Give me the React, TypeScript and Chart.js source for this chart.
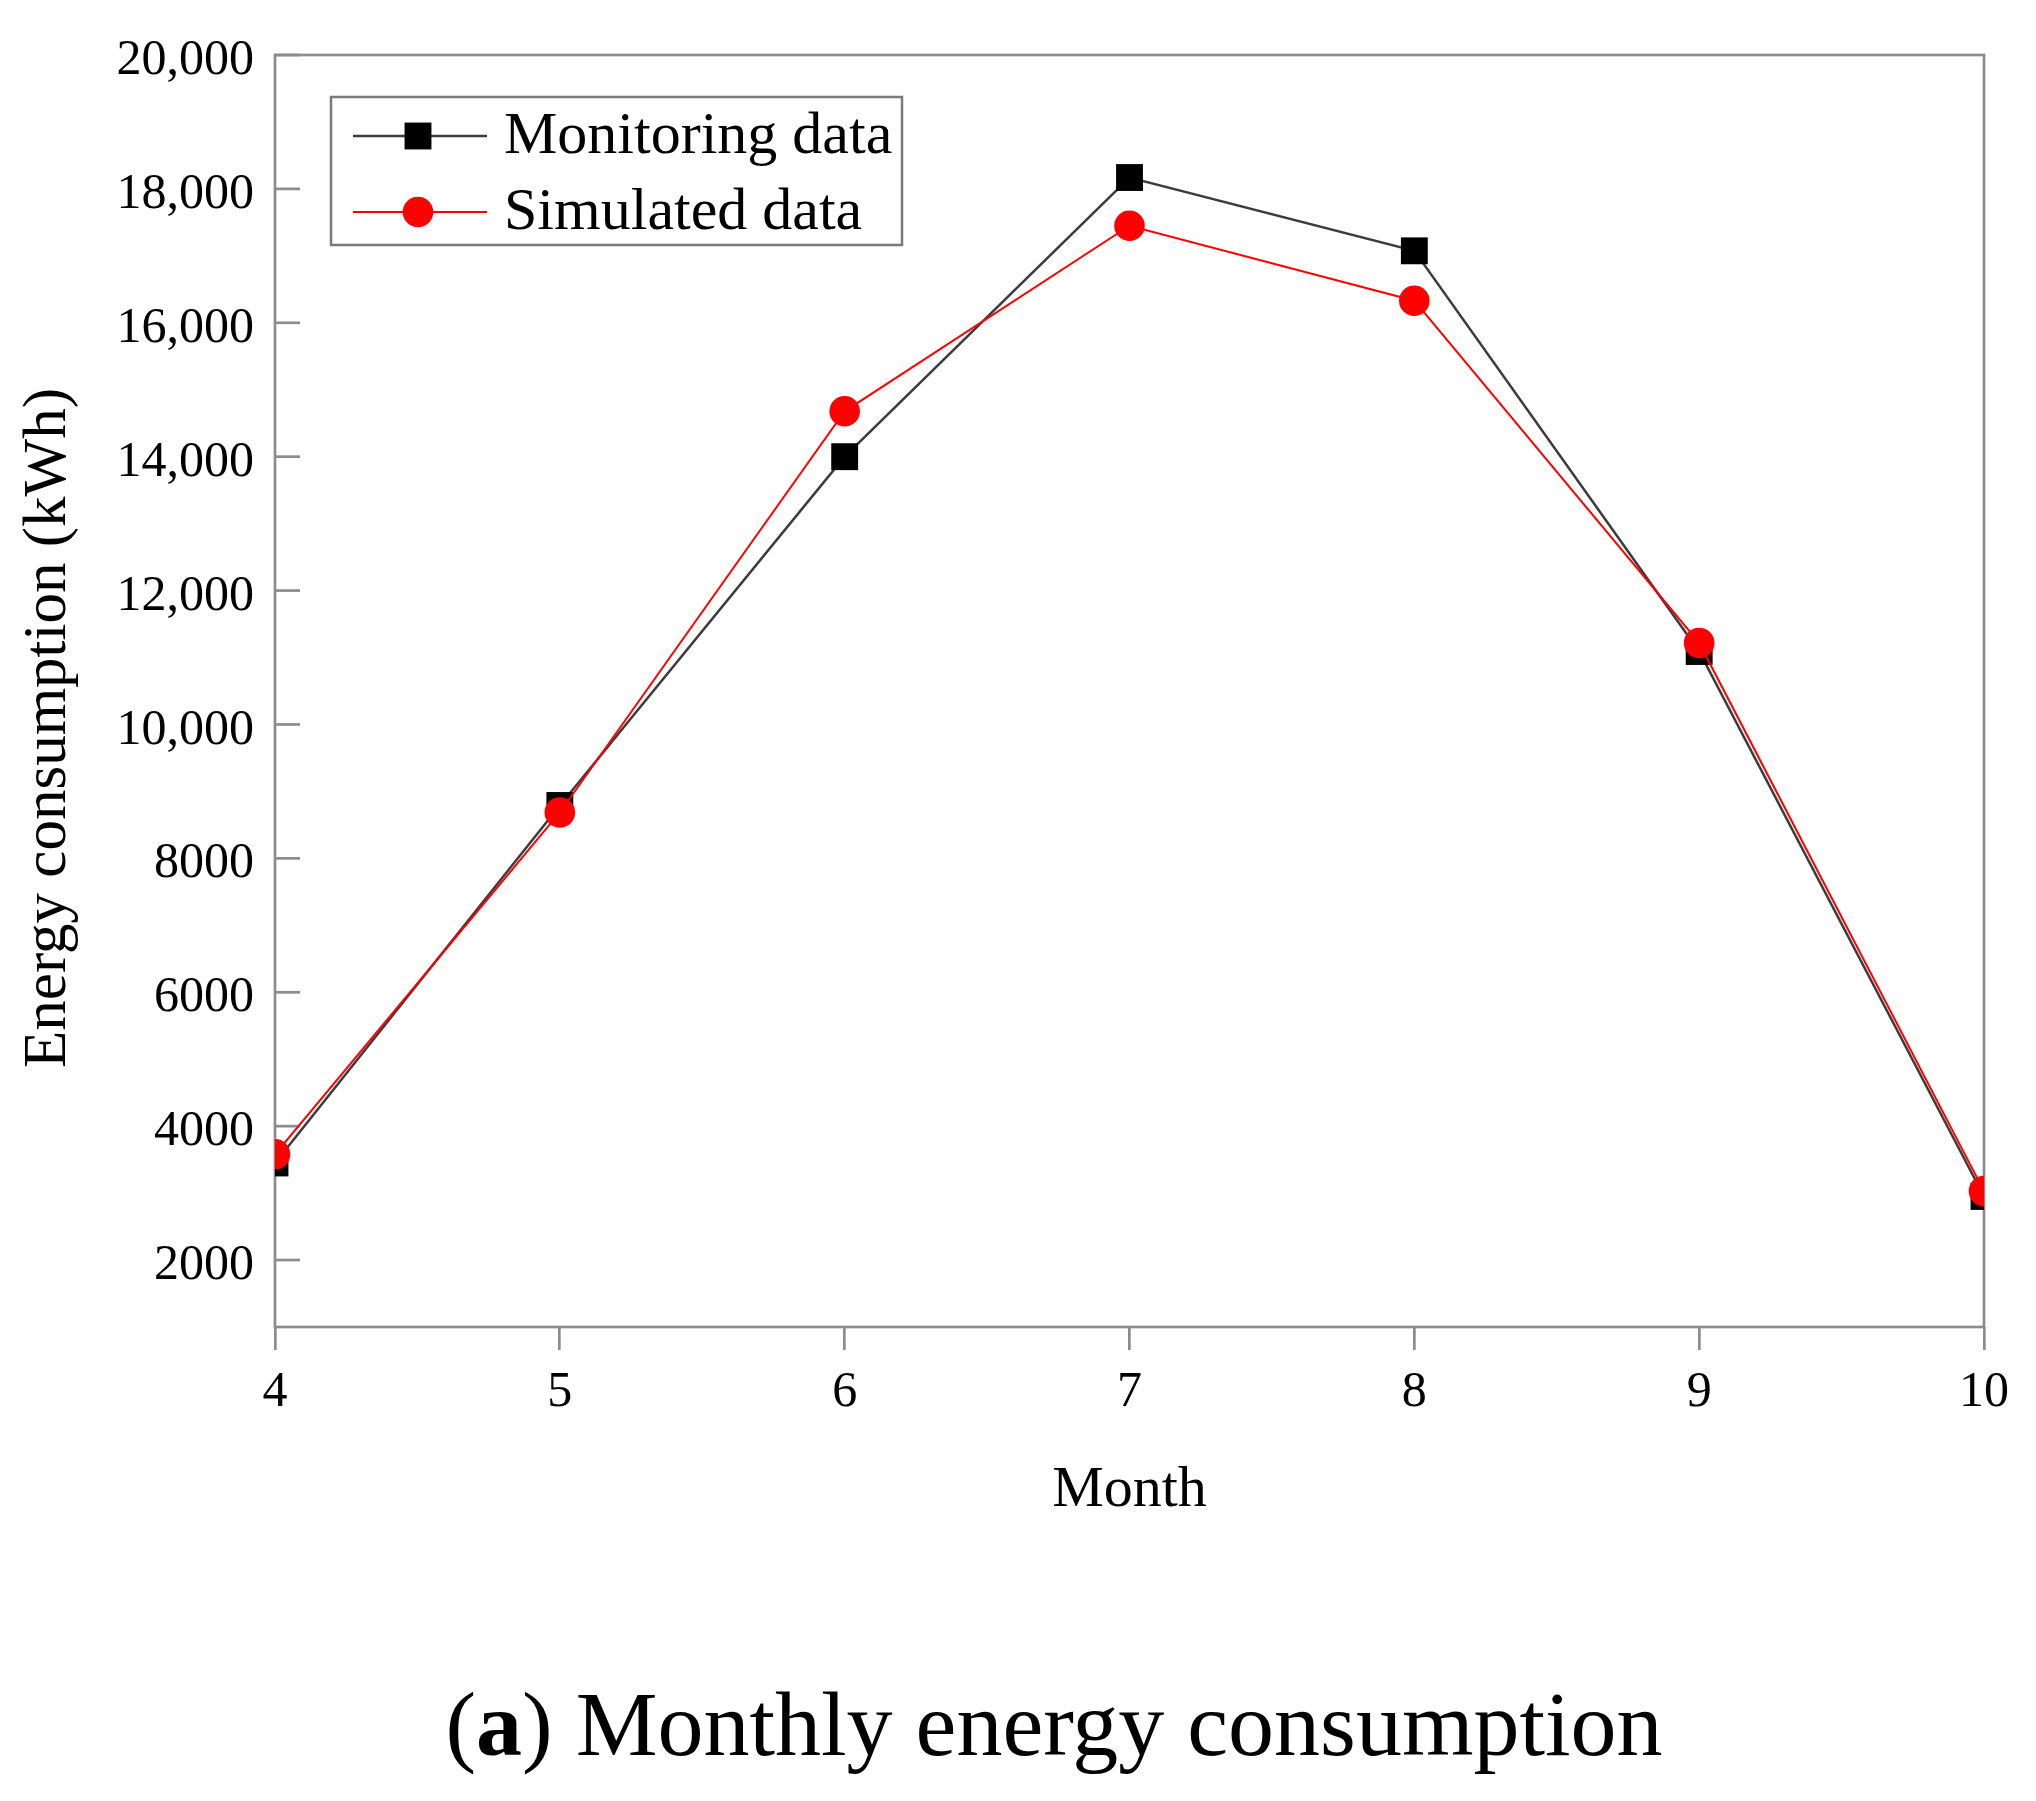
import React, { useEffect, useRef } from "react";
import { Chart, registerables } from "chart.js";

Chart.register(...registerables);

// ---- data ----
const months = ["4", "5", "6", "7", "8", "9", "10"];
const monitoringData = [3450, 8790, 14000, 18170, 17075, 11090, 2950];
const simulatedData = [3580, 8685, 14678, 17450, 16330, 11218, 3030];
const yTickValues = [2000, 4000, 6000, 8000, 10000, 12000, 14000, 16000, 18000, 20000];
const yTickLabels = ["2000", "4000", "6000", "8000", "10,000", "12,000", "14,000", "16,000", "18,000", "20,000"];
const seriesNames = ["Monitoring data", "Simulated data"];

const FONT = '"Liberation Serif", "Times New Roman", serif';
const AXIS_COLOR = "#8c8c8c";
const BLACK_LINE = "#3c3c3c";
const RED = "#ff0000";

const decorPlugin = {
  id: "decor",
  beforeDatasetsDraw(chart: any) {
    const { ctx, chartArea: a, scales } = chart;
    ctx.save();
    ctx.strokeStyle = AXIS_COLOR;
    ctx.lineWidth = 2.7;
    ctx.strokeRect(a.left, a.top, a.right - a.left, a.bottom - a.top);
    const y = scales.y;
    y.ticks.forEach((t: any) => {
      const py = y.getPixelForValue(t.value);
      ctx.beginPath();
      ctx.moveTo(a.left, py);
      ctx.lineTo(a.left + 25, py);
      ctx.stroke();
    });
    ctx.restore();
  },
  afterDraw(chart: any) {
    const { ctx } = chart;
    ctx.save();
    // y axis title
    ctx.translate(49, 728);
    ctx.rotate(-Math.PI / 2);
    ctx.font = `61px ${FONT}`;
    ctx.fillStyle = "#000";
    ctx.textAlign = "center";
    ctx.textBaseline = "middle";
    ctx.fillText("Energy consumption (kWh)", 0, 0);
    ctx.restore();

    // legend
    ctx.save();
    ctx.strokeStyle = "#7a7a7a";
    ctx.lineWidth = 2.5;
    ctx.strokeRect(331, 97, 571, 148);
    const rows = [136, 212];
    const ds = chart.data.datasets;
    rows.forEach((ry, i) => {
      const d = ds[i];
      ctx.strokeStyle = d.borderColor;
      ctx.lineWidth = d.borderWidth;
      ctx.beginPath();
      ctx.moveTo(353, ry);
      ctx.lineTo(487, ry);
      ctx.stroke();
      ctx.fillStyle = d.pointBackgroundColor;
      if (d.pointStyle === "rect") {
        const s = d.pointRadius * Math.SQRT1_2;
        ctx.fillRect(418 - s, ry - s, 2 * s, 2 * s);
      } else {
        ctx.beginPath();
        ctx.arc(418, ry, d.pointRadius, 0, Math.PI * 2);
        ctx.fill();
      }
      ctx.fillStyle = "#000";
      ctx.font = `60px ${FONT}`;
      ctx.textAlign = "left";
      ctx.textBaseline = "middle";
      ctx.fillText(seriesNames[i], 504, ry + 1);
    });
    ctx.restore();
  },
};

export default function App() {
  const ref = useRef<HTMLCanvasElement | null>(null);

  useEffect(() => {
    document.body.style.margin = "0";
    document.body.style.overflow = "hidden";
    const canvas = ref.current;
    if (!canvas) return;
    const chart = new Chart(canvas, {
      type: "line",
      data: {
        labels: months,
        datasets: [
          {
            label: seriesNames[0],
            data: monitoringData,
            borderColor: BLACK_LINE,
            borderWidth: 2.5,
            pointStyle: "rect",
            pointRadius: 19,
            pointBackgroundColor: "#000000",
            pointBorderWidth: 0,
            pointBorderColor: "#000000",
            tension: 0,
            order: 1,
            clip: 0,
          },
          {
            label: seriesNames[1],
            data: simulatedData,
            borderColor: RED,
            borderWidth: 2,
            pointStyle: "circle",
            pointRadius: 15.3,
            pointBackgroundColor: RED,
            pointBorderWidth: 0,
            pointBorderColor: RED,
            tension: 0,
            order: 0,
            clip: 0,
          },
        ] as any,
      },
      options: {
        responsive: false,
        animation: false,
        devicePixelRatio: 1,
        layout: { padding: { left: 0, top: 55, right: 52, bottom: 0 } },
        plugins: {
          legend: { display: false },
          tooltip: { enabled: false },
          title: { display: false },
        },
        scales: {
          x: {
            type: "category",
            offset: false,
            grid: {
              display: true,
              drawOnChartArea: false,
              drawTicks: true,
              tickLength: 23,
              color: AXIS_COLOR,
              lineWidth: 2.7,
            },
            border: { display: false },
            ticks: {
              font: { family: FONT, size: 50 },
              color: "#000",
              padding: 13,
              maxRotation: 0,
              autoSkip: false,
            },
            title: {
              display: true,
              text: "Month",
              font: { family: FONT, size: 58 },
              color: "#000",
              padding: { top: 0, bottom: 275 },
            },
            afterFit: (scale: any) => {
              scale.height = 474;
            },
          },
          y: {
            type: "linear",
            min: 1000,
            max: 20000,
            grid: { display: false, drawTicks: false },
            border: { display: false },
            afterBuildTicks: (scale: any) => {
              scale.ticks = yTickValues.map((v) => ({ value: v }));
            },
            ticks: {
              font: { family: FONT, size: 50 },
              color: "#000",
              padding: 21,
              labelOffset: 6,
              callback: (v: any) => {
                const i = yTickValues.indexOf(Number(v));
                return i >= 0 ? yTickLabels[i] : "";
              },
            },
            afterFit: (scale: any) => {
              scale.width = 275;
            },
          },
        },
      } as any,
      plugins: [decorPlugin],
    });
    return () => chart.destroy();
  }, []);

  return (
    <div style={{ position: "absolute", left: 0, top: 0, width: 2036, height: 1801, background: "#fff" }}>
      <canvas ref={ref} width={2036} height={1801} style={{ display: "block", width: 2036, height: 1801 }} />
      <div
        style={{
          position: "absolute",
          left: 1054,
          top: 1678,
          transform: "translateX(-50%)",
          whiteSpace: "nowrap",
          fontFamily: FONT,
          fontSize: 92,
          lineHeight: "92px",
          color: "#000",
        }}
      >
        (<b>a</b>) Monthly energy consumption
      </div>
    </div>
  );
}
